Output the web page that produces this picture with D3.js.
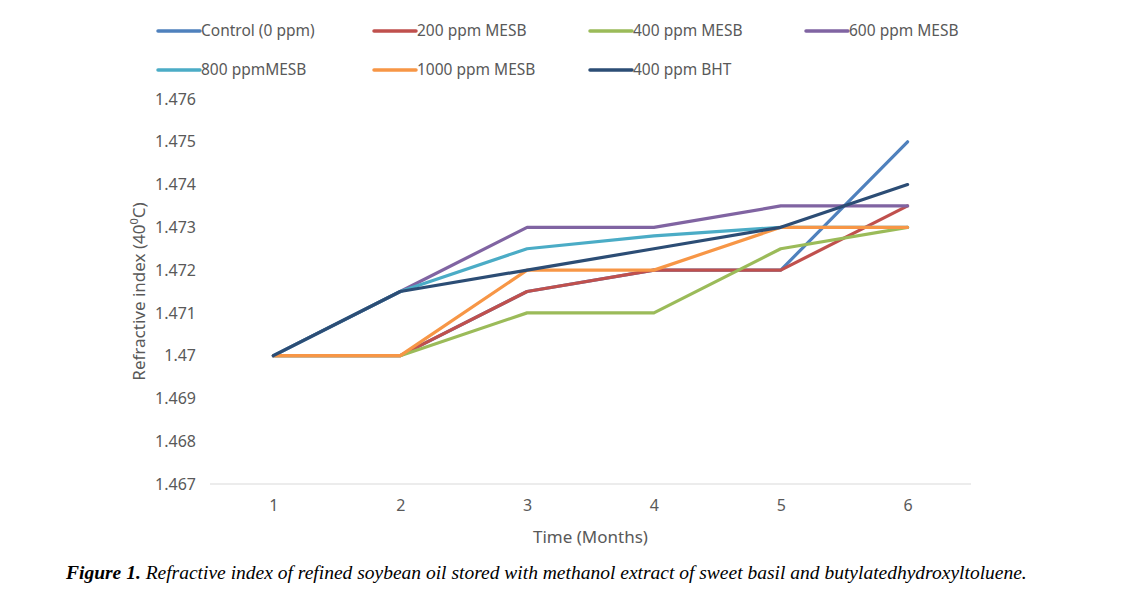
<!DOCTYPE html>
<html>
<head>
<meta charset="utf-8">
<script src="https://cdn.jsdelivr.net/npm/d3@7"></script>
<style>
  body { margin: 0; background: #fff; }
  svg { display: block; }
</style>
</head>
<body>
<script>
// data
const months = ["1", "2", "3", "4", "5", "6"]
const seriesNames = ["Control (0 ppm)", "200 ppm MESB", "400 ppm MESB", "600 ppm MESB",
                     "800 ppmMESB", "1000 ppm MESB", "400 ppm BHT"]
const control = [1.470, 1.470, 1.4715, 1.472, 1.472, 1.475]
const mesb200 = [1.470, 1.470, 1.4715, 1.472, 1.472, 1.4735]
const mesb400 = [1.470, 1.470, 1.471, 1.471, 1.4725, 1.473]
const mesb600 = [1.470, 1.4715, 1.473, 1.473, 1.4735, 1.4735]
const mesb800 = [1.470, 1.4715, 1.4725, 1.4728, 1.473, 1.473]
const mesb1000 = [1.470, 1.470, 1.472, 1.472, 1.473, 1.473]
const bht400 = [1.470, 1.4715, 1.472, 1.4725, 1.473, 1.474]
const yTicks = [1.467, 1.468, 1.469, 1.470, 1.471, 1.472, 1.473, 1.474, 1.475, 1.476]
const yTickLabels = ["1.467", "1.468", "1.469", "1.47", "1.471", "1.472", "1.473", "1.474", "1.475", "1.476"]

const colors = ["#4f81bd", "#c0504d", "#9bbb59", "#8064a2", "#4bacc6", "#f79646", "#2c4d75"]
const allValues = [control, mesb200, mesb400, mesb600, mesb800, mesb1000, bht400]

const w = 1131
const h = 603
const plotLeft = 210, plotRight = 971, plotTop = 99, plotBottom = 484

const svg = d3.select("body").append("svg")
              .attr("width", w)
              .attr("height", h)

const xScale = d3.scalePoint()
                 .domain(months)
                 .range([plotLeft, plotRight])
                 .padding(0.5)
const yScale = d3.scaleLinear()
                 .domain([1.467, 1.476])
                 .range([plotBottom, plotTop])

// y axis: labels only
const yAxis = d3.axisLeft(yScale)
                .tickValues(yTicks)
                .tickFormat((d, i) => yTickLabels[i])
                .tickSize(0)
                .tickPadding(14)
const gy = svg.append("g")
              .attr("transform", "translate(" + plotLeft + ",0)")
              .call(yAxis)
gy.select(".domain").remove()
gy.selectAll("text")
  .attr("font-family", "Noto Sans, sans-serif")
  .attr("font-size", 16)
  .attr("fill", "#595959")

// x axis
const xAxis = d3.axisBottom(xScale).tickSize(0).tickPadding(16)
const gx = svg.append("g")
              .attr("transform", "translate(0," + plotBottom + ")")
              .call(xAxis)
gx.select(".domain")
  .attr("d", "M" + plotLeft + ",0H" + plotRight)
  .attr("stroke", "#d9d9d9")
  .attr("stroke-width", 1)
gx.selectAll("text")
  .attr("font-family", "Noto Sans, sans-serif")
  .attr("font-size", 16)
  .attr("fill", "#595959")

// lines
const line = d3.line()
               .x((d, i) => xScale(months[i]))
               .y(d => yScale(d))

svg.selectAll(".series")
   .data(allValues)
   .enter()
   .append("path")
   .attr("class", "series")
   .attr("d", d => line(d))
   .attr("fill", "none")
   .attr("stroke", (d, i) => colors[i])
   .attr("stroke-width", 3.2)
   .attr("stroke-linejoin", "round")
   .attr("stroke-linecap", "round")

// axis titles
svg.append("text")
   .attr("x", (plotLeft + plotRight) / 2)
   .attr("y", 543)
   .attr("text-anchor", "middle")
   .attr("font-family", "Noto Sans, sans-serif")
   .attr("font-size", 17)
   .attr("fill", "#595959")
   .text("Time (Months)")

const yTitle = svg.append("text")
   .attr("transform", "translate(145," + ((plotTop + plotBottom) / 2) + ") rotate(-90)")
   .attr("text-anchor", "middle")
   .attr("font-family", "Noto Sans, sans-serif")
   .attr("font-size", 17)
   .attr("fill", "#595959")
yTitle.append("tspan").text("Refractive index (40")
yTitle.append("tspan").attr("font-size", 11).attr("dy", -7).text("0")
yTitle.append("tspan").attr("dy", 7).text("C)")

// legend
const legend = svg.selectAll(".legend")
                  .data(seriesNames)
                  .enter()
                  .append("g")
                  .attr("class", "legend")
                  .attr("transform", (d, i) => "translate(" + (158 + (i % 4) * 216) + "," + (31 + Math.floor(i / 4) * 39) + ")")
legend.append("line")
      .attr("x1", 0).attr("x2", 42)
      .attr("stroke", (d, i) => colors[i])
      .attr("stroke-width", 3.5)
      .attr("stroke-linecap", "round")
legend.append("text")
      .attr("x", 43)
      .attr("y", 5)
      .attr("font-family", "Noto Sans, sans-serif")
      .attr("font-size", 15.5)
      .attr("fill", "#595959")
      .text(d => d)

// caption
const caption = svg.append("text")
                   .attr("x", 66)
                   .attr("y", 579)
                   .attr("font-family", "Liberation Serif, serif")
                   .attr("font-size", 19.5)
                   .attr("font-style", "italic")
                   .attr("fill", "#000")
caption.append("tspan").attr("font-weight", "bold").text("Figure 1.")
caption.append("tspan").text(" Refractive index of refined soybean oil stored with methanol extract of sweet basil and butylatedhydroxyltoluene.")
</script>
</body>
</html>
